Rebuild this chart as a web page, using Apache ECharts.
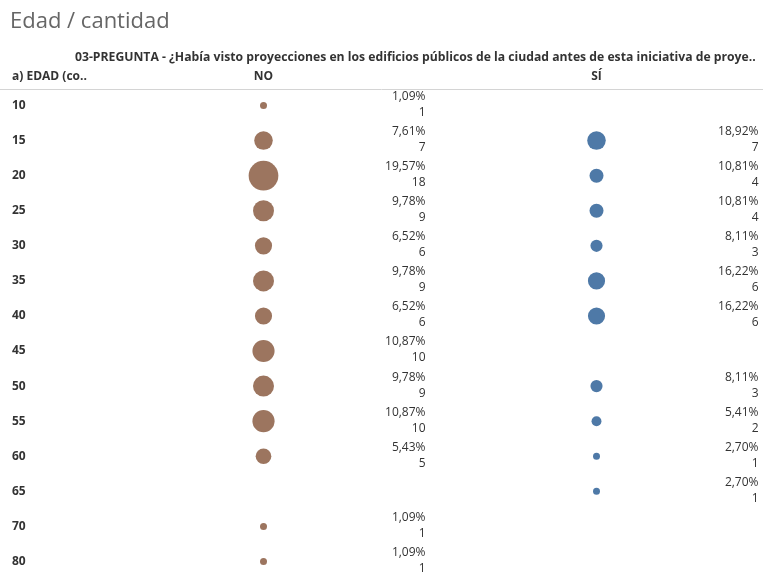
<!DOCTYPE html>
<html>
<head>
<meta charset="utf-8">
<script src="https://cdn.jsdelivr.net/npm/echarts@6/dist/echarts.min.js"></script>
<style>
html,body{margin:0;padding:0;background:#fff;}
#c{width:763px;height:574px;}
</style>
</head>
<body>
<div id="c"></div>
<script>
const ages = ['10','15','20','25','30','35','40','45','50','55','60','65','70','80'];
const columns = ['NO','SÍ'];
const noCounts = [1,7,18,9,6,9,6,10,9,10,5,null,1,1];
const noPct = [1.09,7.61,19.57,9.78,6.52,9.78,6.52,10.87,9.78,10.87,5.43,null,1.09,1.09];
const siCounts = [null,7,4,4,3,6,6,null,3,2,1,1,null,null];
const siPct = [null,18.92,10.81,10.81,8.11,16.22,16.22,null,8.11,5.41,2.70,2.70,null,null];

function build(col, counts, pcts){
  const out = [];
  ages.forEach((a,i)=>{ if(counts[i]!=null) out.push([col, a, counts[i], pcts[i]]); });
  return out;
}
const font = '"Open Sans", "Noto Sans", sans-serif';
const labelCfg = {
  show: true, position: 'inside', align: 'right', verticalAlign: 'middle',
  offset: [162, -1], fontFamily: font, fontSize: 12, lineHeight: 16, color: '#333',
  formatter: p => p.data[3].toFixed(2).replace('.', ',') + '%\n' + p.data[2]
};
const chart = echarts.init(document.getElementById('c'));
chart.setOption({
  animation: false,
  title: [
    {text: 'Edad / cantidad', left: 5, top: 6, textStyle: {fontFamily: font, fontSize: 22, fontWeight: 'normal', color: '#666'}},
    {text: '03-PREGUNTA - ¿Había visto proyecciones en los edificios públicos de la ciudad antes de esta iniciativa de proye..', left: 70, top: 47, textStyle: {fontFamily: font, fontSize: 12.2, fontWeight: 'bold', color: '#333'}},
    {text: 'a) EDAD (co..', left: 7, top: 66, textStyle: {fontFamily: font, fontSize: 12, fontWeight: 'bold', color: '#333'}}
  ],
  graphic: [{type: 'line', shape: {x1: 0, y1: 89.5, x2: 763, y2: 89.5}, style: {stroke: '#d4d4d4', lineWidth: 1}, silent: true}],
  grid: {left: 97, right: 0, top: 88, height: 491, outerBoundsMode: 'none', containLabel: false},
  xAxis: {
    type: 'category', data: columns, position: 'top',
    axisLine: {show: false}, axisTick: {show: false}, splitLine: {show: false},
    axisLabel: {margin: 5, fontFamily: font, fontSize: 12, fontWeight: 'bold', color: '#333'}
  },
  yAxis: {
    type: 'category', data: ages, inverse: true,
    axisLine: {show: false}, axisTick: {show: false}, splitLine: {show: false},
    axisLabel: {align: 'left', margin: 85, fontFamily: font, fontSize: 12, fontWeight: 'bold', color: '#333'}
  },
  series: [
    {type: 'scatter', data: build('NO', noCounts, noPct), symbolSize: d => 7*Math.sqrt(d[2]),
     itemStyle: {color: '#9c755f', opacity: 1}, label: labelCfg, silent: true, emphasis: {disabled: true}},
    {type: 'scatter', data: build('SÍ', siCounts, siPct), symbolSize: d => 7*Math.sqrt(d[2]),
     itemStyle: {color: '#4e79a7', opacity: 1}, label: labelCfg, silent: true, emphasis: {disabled: true}}
  ]
});
</script>
</body>
</html>
